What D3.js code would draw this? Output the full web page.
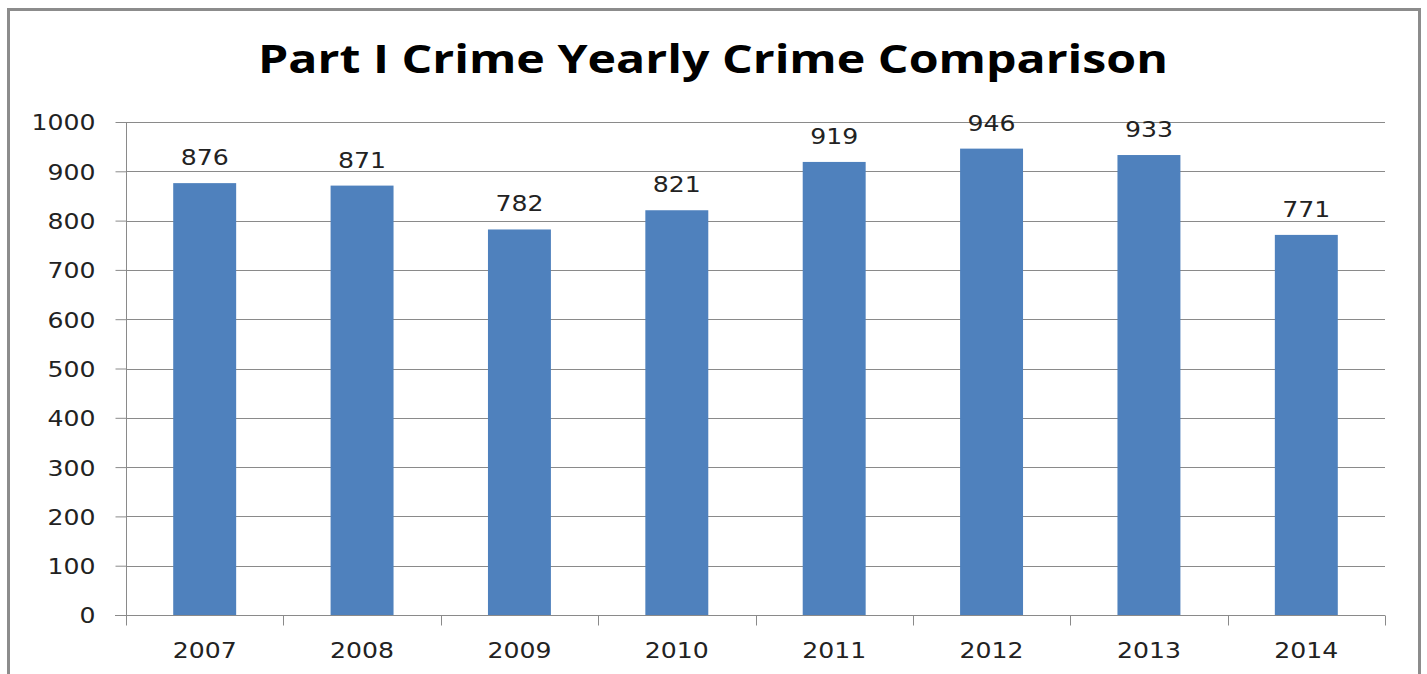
<!DOCTYPE html>
<html><head><meta charset="utf-8">
<script src="https://cdn.jsdelivr.net/npm/d3@7"></script>
<style>body{margin:0;background:#fff;}svg{display:block;}</style>
</head><body><svg id="c" width="1427" height="674"></svg>
<script>
const categories = ["2007","2008","2009","2010","2011","2012","2013","2014"];
const values = [876, 871, 782, 821, 919, 946, 933, 771];
const yTicks = [0,100,200,300,400,500,600,700,800,900,1000];
const title = "Part I Crime Yearly Crime Comparison";

(function(){
const svg = d3.select("#c");
const font = "'DejaVu Sans', sans-serif";
const fs = 22, cw = 16;
// frame
svg.append("rect").attr("x",8.5).attr("y",9.5).attr("width",1411).attr("height",680)
  .attr("fill","#fff").attr("stroke","#8c8c8c").attr("stroke-width",3);

const pL = 126, pR = 1385, pT = 122, pB = 615;
const x = d3.scaleBand().domain(categories).range([pL,pR]).paddingInner(0.6).paddingOuter(0.3);
const xb = d3.scaleBand().domain(categories).range([pL,pR]);
const y = d3.scaleLinear().domain([0,1000]).range([pB,pT]);

// gridlines
svg.append("g").selectAll("line").data(yTicks.filter(d=>d>0)).join("line")
  .attr("x1",pL).attr("x2",pR).attr("y1",d=>Math.round(y(d))+0.5).attr("y2",d=>Math.round(y(d))+0.5)
  .attr("stroke","#8a8a8a").attr("stroke-width",1);

// bars
svg.append("g").selectAll("rect").data(values).join("rect")
  .attr("x",(d,i)=>x(categories[i])).attr("width",x.bandwidth())
  .attr("y",d=>y(d)).attr("height",d=>pB-y(d)).attr("fill","#4F81BD");

// y axis
const ya = d3.axisLeft(y).tickValues(yTicks).tickFormat(d3.format("d")).tickSize(11).tickPadding(20);
const gy = svg.append("g").attr("transform",`translate(${pL+0.5},0)`).call(ya);
gy.selectAll("path,line").attr("stroke","#8a8a8a");
gy.select(".domain").attr("d",`M0,${pT}V${pB}`);
gy.selectAll("text").attr("font-family",font).attr("font-size",fs).attr("fill","#222")
  .attr("dy","0.36em")
  .attr("textLength",function(){return this.textContent.length*cw;}).attr("lengthAdjust","spacingAndGlyphs");

// x axis
const gx = svg.append("g").attr("transform",`translate(0,${pB+0.5})`);
gx.append("line").attr("x1",pL-11).attr("x2",pR).attr("stroke","#8a8a8a");
gx.selectAll("line.t").data(categories.concat(["end"])).join("line").attr("class","t")
  .attr("x1",(d,i)=>Math.round(pL + i*xb.bandwidth())+0.5).attr("x2",(d,i)=>Math.round(pL + i*xb.bandwidth())+0.5)
  .attr("y1",0).attr("y2",10).attr("stroke","#8a8a8a");
gx.selectAll("text").data(categories).join("text")
  .attr("x",d=>xb(d)+xb.bandwidth()/2).attr("y",42).attr("text-anchor","middle")
  .attr("font-family",font).attr("font-size",fs).attr("fill","#222")
  .attr("textLength",d=>d.length*cw).attr("lengthAdjust","spacingAndGlyphs").text(d=>d);

// value labels
svg.append("g").selectAll("text").data(values).join("text")
  .attr("x",(d,i)=>x(categories[i])+x.bandwidth()/2).attr("y",d=>y(d)-18)
  .attr("text-anchor","middle").attr("font-family",font).attr("font-size",fs).attr("fill","#222")
  .attr("textLength",d=>String(d).length*cw).attr("lengthAdjust","spacingAndGlyphs")
  .text(d=>d);

// title
svg.append("text").attr("x",713).attr("y",73).attr("text-anchor","middle")
  .attr("font-family","'Open Sans', sans-serif").attr("font-weight","bold").attr("font-size",39)
  .attr("textLength",910).attr("lengthAdjust","spacingAndGlyphs")
  .attr("fill","#000").text(title);
})();
</script></body></html>
